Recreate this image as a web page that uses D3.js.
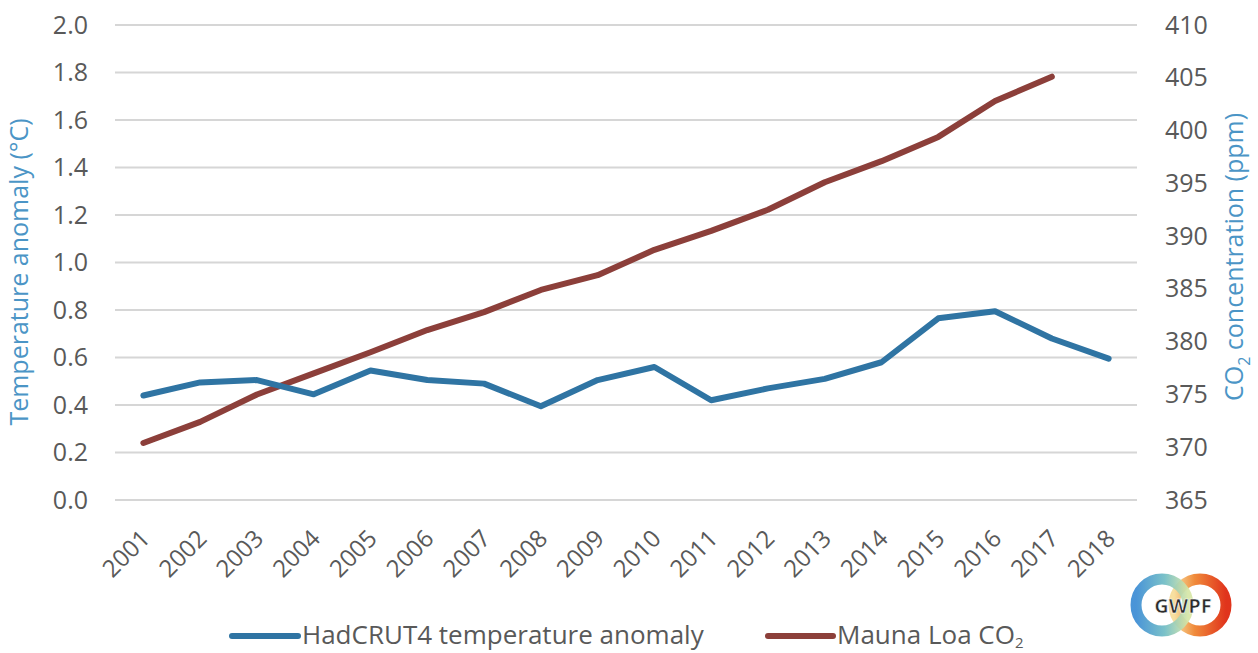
<!DOCTYPE html>
<html>
<head>
<meta charset="utf-8">
<script src="https://cdn.jsdelivr.net/npm/d3@7"></script>
<style>
  body { margin: 0; background: #fff; }
  text { font-family: "Open Sans", "Noto Sans", sans-serif; }
</style>
</head>
<body>
<script>
var years = ["2001","2002","2003","2004","2005","2006","2007","2008","2009",
             "2010","2011","2012","2013","2014","2015","2016","2017","2018"];
// HadCRUT4 annual anomaly (left axis, °C)
var tempValues = [0.44, 0.495, 0.505, 0.445, 0.545, 0.505, 0.49, 0.395, 0.505,
                  0.56, 0.42, 0.47, 0.51, 0.58, 0.765, 0.795, 0.68, 0.595];
// Mauna Loa CO2 (right axis, ppm) - no 2018 value
var co2Values = [370.4, 372.4, 375.0, 377.0, 379.0, 381.1, 382.8, 384.9, 386.3,
                 388.7, 390.5, 392.5, 395.1, 397.1, 399.4, 402.8, 405.1, null];
var leftTicks = [0, 0.2, 0.4, 0.6, 0.8, 1.0, 1.2, 1.4, 1.6, 1.8, 2.0];
var rightTicks = [365, 370, 375, 380, 385, 390, 395, 400, 405, 410];
var seriesNames = ["HadCRUT4 temperature anomaly", "Mauna Loa CO"];

var W = 1258, H = 653;
var mLeft = 115, mRight = 1137, mTop = 25, mBottom = 500;
var blue = "#2f74a3", brown = "#8c3f3a", grey = "#595959";

var svg = d3.select("body").append("svg")
    .attr("width", W)
    .attr("height", H);

var x = d3.scaleBand().domain(years).range([mLeft, mRight]);
var yL = d3.scaleLinear().domain([0, 2]).range([mBottom, mTop]);
var yR = d3.scaleLinear().domain([365, 410]).range([mBottom, mTop]);

// gridlines
svg.append("g").selectAll("line")
    .data(leftTicks)
    .enter().append("line")
    .attr("x1", mLeft).attr("x2", mRight)
    .attr("y1", function (d) { return yL(d); })
    .attr("y2", function (d) { return yL(d); })
    .attr("stroke", "#d6d6d6")
    .attr("stroke-width", 2);

// left axis
var axL = svg.append("g")
    .attr("transform", "translate(" + mLeft + ",0)")
    .call(d3.axisLeft(yL).tickValues(leftTicks).tickFormat(d3.format(".1f")).tickSize(0).tickPadding(27));
axL.select(".domain").remove();
axL.selectAll("text").attr("fill", grey).style("font-size", "25px");

// right axis
var axR = svg.append("g")
    .attr("transform", "translate(" + mRight + ",0)")
    .call(d3.axisRight(yR).tickValues(rightTicks).tickSize(0).tickPadding(28));
axR.select(".domain").remove();
axR.selectAll("text").attr("fill", grey).style("font-size", "25px");

// x axis labels (rotated)
svg.append("g").selectAll("text")
    .data(years)
    .enter().append("text")
    .attr("transform", function (d) {
        return "translate(" + (x(d) + x.bandwidth() / 2 + 8) + ",540) rotate(-45)";
    })
    .attr("text-anchor", "end")
    .attr("fill", grey)
    .style("font-size", "24px")
    .text(function (d) { return d; });

// axis titles
svg.append("text")
    .attr("transform", "translate(28,272) rotate(-90)")
    .attr("text-anchor", "middle")
    .attr("fill", "#4b95c6")
    .style("font-size", "25px")
    .text("Temperature anomaly (°C)");

var rt = svg.append("text")
    .attr("transform", "translate(1243,257) rotate(-90)")
    .attr("text-anchor", "middle")
    .attr("fill", "#4b95c6")
    .style("font-size", "25px");
rt.append("tspan").text("CO");
rt.append("tspan").attr("dy", 7).style("font-size", "16px").text("2");
rt.append("tspan").attr("dy", -7).text(" concentration (ppm)");

// lines
var tempLine = d3.line()
    .x(function (d, i) { return x(years[i]) + x.bandwidth() / 2; })
    .y(function (d) { return yL(d); });

var co2Line = d3.line()
    .defined(function (d) { return d !== null; })
    .x(function (d, i) { return x(years[i]) + x.bandwidth() / 2; })
    .y(function (d) { return yR(d); });

svg.append("path")
    .datum(co2Values)
    .attr("d", co2Line)
    .attr("fill", "none")
    .attr("stroke", brown)
    .attr("stroke-width", 6)
    .attr("stroke-linejoin", "round")
    .attr("stroke-linecap", "round");

svg.append("path")
    .datum(tempValues)
    .attr("d", tempLine)
    .attr("fill", "none")
    .attr("stroke", blue)
    .attr("stroke-width", 6)
    .attr("stroke-linejoin", "round")
    .attr("stroke-linecap", "round");

// legend
var legend = svg.append("g");
legend.append("line")
    .attr("x1", 232).attr("x2", 298).attr("y1", 636).attr("y2", 636)
    .attr("stroke", blue).attr("stroke-width", 6).attr("stroke-linecap", "round");
legend.append("text")
    .attr("x", 302).attr("y", 644)
    .attr("fill", grey).style("font-size", "26px")
    .text(seriesNames[0]);
legend.append("line")
    .attr("x1", 768).attr("x2", 833).attr("y1", 636).attr("y2", 636)
    .attr("stroke", brown).attr("stroke-width", 6).attr("stroke-linecap", "round");
var lt = legend.append("text")
    .attr("x", 837).attr("y", 644)
    .attr("fill", grey).style("font-size", "26px");
lt.append("tspan").text(seriesNames[1]);
lt.append("tspan").attr("dy", 4).style("font-size", "15px").text("2");

// GWPF logo
var defs = svg.append("defs");
var g1 = defs.append("linearGradient").attr("id", "gL").attr("x1", "0").attr("x2", "1");
g1.append("stop").attr("offset", "0").attr("stop-color", "#3a8bd4");
g1.append("stop").attr("offset", "0.55").attr("stop-color", "#6fbcc4");
g1.append("stop").attr("offset", "1").attr("stop-color", "#d6e6a6");
var g2 = defs.append("linearGradient").attr("id", "gR").attr("x1", "0").attr("x2", "1");
g2.append("stop").attr("offset", "0").attr("stop-color", "#f7dfa0");
g2.append("stop").attr("offset", "0.4").attr("stop-color", "#f08a3a");
g2.append("stop").attr("offset", "1").attr("stop-color", "#e0341c");

var logo = svg.append("g").attr("transform", "translate(1181,605)");
logo.append("circle").attr("cx", 19).attr("cy", 0).attr("r", 26)
    .attr("fill", "none").attr("stroke", "url(#gR)").attr("stroke-width", 11);
logo.append("circle").attr("cx", -19).attr("cy", 0).attr("r", 26)
    .attr("fill", "none").attr("stroke", "url(#gL)").attr("stroke-width", 11)
    .attr("opacity", 0.92);
logo.append("text")
    .attr("x", 2).attr("y", 8)
    .attr("text-anchor", "middle")
    .attr("fill", "#2b2b2b")
    .attr("stroke", "#fff")
    .attr("stroke-width", 0.6)
    .style("font-size", "20px")
    .style("font-weight", "bold")
    .text("GWPF");
</script>
</body>
</html>
